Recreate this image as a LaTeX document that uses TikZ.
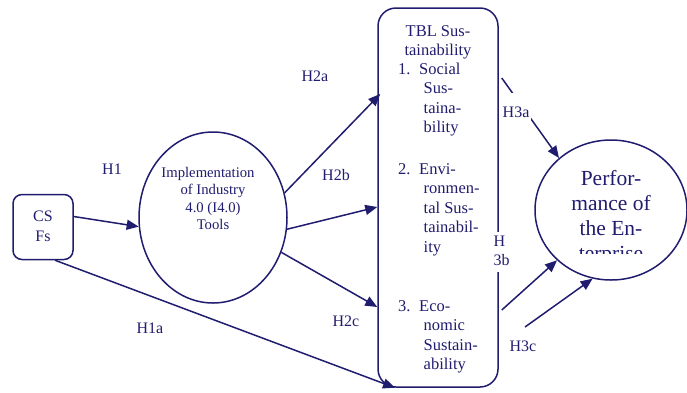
\documentclass[tikz,border=0pt]{standalone}
\usepackage{fontspec}
\setmainfont{Liberation Serif}
\usetikzlibrary{arrows.meta,shapes.geometric}
\definecolor{navy}{RGB}{32,28,110}
\begin{document}
\begin{tikzpicture}[x=1pt,y=-1pt,
  shapeline/.style={draw=navy, line width=1.5pt, inner sep=0pt},
  conn/.style={draw=navy, line width=1.5pt, -{Triangle[length=12pt,width=10pt]}},
  hlab/.style={text=navy, font=\fontsize{16}{19.2}\selectfont, inner sep=0pt},
  tbltext/.style={text=navy, font=\fontsize{16.5}{19.6}\selectfont, inner sep=0pt}]
\useasboundingbox (0,0) rectangle (687,392);

% shapes
\node[shapeline, rounded corners=9pt, minimum width=60pt, minimum height=65pt,
      text=navy, font=\fontsize{16}{20}\selectfont] (csfs) at (43,227)
  {\begin{tabular}{@{}c@{}}CS\\Fs\end{tabular}};
\node[shapeline, ellipse, minimum width=148pt, minimum height=171pt] (impl) at (213,217.5) {};
\node[text=navy, font=\fontsize{14.7}{17.6}\selectfont, inner sep=0pt, anchor=base] (impltext) at (213,177)
  {\begin{tabular}[t]{@{}c@{}}Implementation\hspace*{10pt}\\of Industry\\4.0 (I4.0)\\Tools\end{tabular}};
\node[shapeline, rounded corners=18pt, minimum width=120pt, minimum height=379pt] (tbl) at (438,197.5) {};
\node[tbltext, anchor=base] (tblhead) at (438,36)
  {\begin{tabular}[t]{@{}c@{}}TBL Sus-\\tainability\end{tabular}};
\node[tbltext, anchor=base west] (social) at (398,74)
  {\begin{tabular}[t]{@{}l@{}}1.\hspace{8.6pt}Social\\\hspace{25.5pt}Sus-\\\hspace{25.5pt}taina-\\\hspace{25.5pt}bility\end{tabular}};
\node[tbltext, anchor=base west] (environ) at (398,174)
  {\begin{tabular}[t]{@{}l@{}}2.\hspace{8.6pt}Envi-\\\hspace{25.5pt}ronmen-\\\hspace{25.5pt}tal Sus-\\\hspace{25.5pt}tainabil-\\\hspace{25.5pt}ity\end{tabular}};
\node[tbltext, anchor=base west] (econ) at (398,311)
  {\begin{tabular}[t]{@{}l@{}}3.\hspace{8.6pt}Eco-\\\hspace{25.5pt}nomic\\\hspace{25.5pt}Sustain-\\\hspace{25.5pt}ability\end{tabular}};
\node[shapeline, ellipse, minimum width=152pt, minimum height=140pt] (perf) at (611,210) {};
\begin{scope}
  \clip (530,130) rectangle (690,253);
  \node[text=navy, font=\fontsize{21.5}{25}\selectfont, inner sep=0pt, anchor=base] (perftext) at (611,185.5)
    {\begin{tabular}[t]{@{}c@{}}Perfor-\\mance of\\the En-\\terprise\end{tabular}};
\end{scope}

% connectors
\coordinate (h3cstart) at (525,327);
\draw[conn] ([yshift=10.5pt]csfs.east) -- (impl.187);
\draw[conn] ([xshift=12pt]csfs.south) -- ([xshift=-43pt]tbl.south);
\draw[conn] (impl.19) -- ([xshift=3pt,yshift=103.5pt]tbl.west);
\draw[conn] (impl.-9) -- ([yshift=-9.5pt]tbl.west);
\draw[conn] (impl.-27) -- ([yshift=-109.5pt]tbl.west);
\draw[conn] ([xshift=3pt,yshift=119.5pt]tbl.east) -- (perf.135);
\draw[conn] ([xshift=3pt,yshift=-112.5pt]tbl.east) -- (perf.223);
\draw[conn] (h3cstart) -- (perf.255);

% labels
\node[hlab] (lh1) at (112,169) {H1};
\node[hlab] (lh1a) at (150,328) {H1a};
\node[hlab] (lh2a) at (315,76) {H2a};
\node[hlab] (lh2b) at (336,175) {H2b};
\node[hlab] (lh2c) at (346,321) {H2c};
\node[hlab, fill=white, anchor=base west, text height=24.5pt, text depth=4.5pt, inner xsep=1.5pt] (lh3a) at (501,117.5) {H3a};
\node[hlab, fill=white, minimum width=34pt, minimum height=40pt] (lh3b) at (501.5,252)
  {\begin{tabular}{@{}l@{}}H\\3b\end{tabular}};
\node[hlab] (lh3c) at (523,346) {H3c};
\end{tikzpicture}
\end{document}
